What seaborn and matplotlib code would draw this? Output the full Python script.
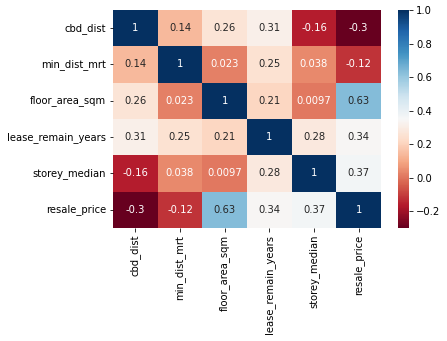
import numpy as np
import pandas as pd
import matplotlib
matplotlib.use("Agg")
import matplotlib.pyplot as plt
import seaborn as sns

features = ["cbd_dist", "min_dist_mrt", "floor_area_sqm",
            "lease_remain_years", "storey_median", "resale_price"]

cbd_dist = [1, 0.14, 0.26, 0.31, -0.16, -0.3]
min_dist_mrt = [0.14, 1, 0.023, 0.25, 0.038, -0.12]
floor_area_sqm = [0.26, 0.023, 1, 0.21, 0.0097, 0.63]
lease_remain_years = [0.31, 0.25, 0.21, 1, 0.28, 0.34]
storey_median = [-0.16, 0.038, 0.0097, 0.28, 1, 0.37]
resale_price = [-0.3, -0.12, 0.63, 0.34, 0.37, 1]

corr = pd.DataFrame(
    [cbd_dist, min_dist_mrt, floor_area_sqm,
     lease_remain_years, storey_median, resale_price],
    index=features, columns=features,
)

fig = plt.figure(figsize=(447 / 72, 341 / 72), dpi=72)
ax = fig.add_axes([0.2528, 0.3314, 0.5995, 0.6393])
cax = fig.add_axes([0.8904, 0.3314, 0.0246, 0.6393])

sns.heatmap(corr, annot=True, cmap="RdBu", ax=ax, cbar_ax=cax,
            annot_kws={"fontsize": 10})
ax.tick_params(labelsize=10)
cax.tick_params(labelsize=10)

fig.savefig("out.png", dpi=72)
